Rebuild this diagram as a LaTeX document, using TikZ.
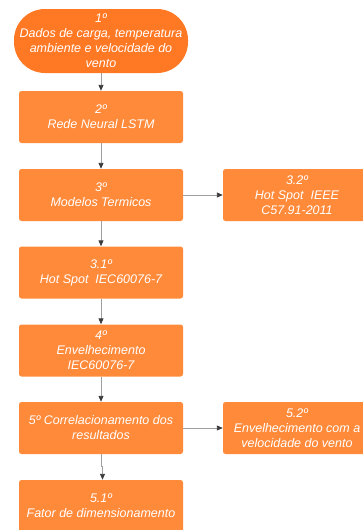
\documentclass[tikz,border=0pt]{standalone}
\usepackage{fontspec}
\setmainfont{Liberation Sans}
\usetikzlibrary{arrows.meta,calc}
\definecolor{termorange}{RGB}{255,120,36}
\definecolor{boxorange}{RGB}{255,138,58}
\definecolor{linegray}{RGB}{160,160,160}
\definecolor{headgray}{RGB}{60,60,60}
\tikzset{
  stepbox/.style={fill=boxorange, draw=none, rounded corners=2.5pt,
    minimum width=164pt, minimum height=52pt, inner sep=0pt,
    text=white, align=center, font=\fontsize{12.5}{15}\selectfont\itshape},
  sidebox/.style={stepbox, minimum width=148pt},
  terminal/.style={stepbox, fill=termorange, rounded corners=31pt,
    minimum width=174pt, minimum height=64pt},
  flow/.style={draw=linegray, line width=0.9pt,
    -{Triangle[length=6pt,width=5pt,color=headgray]}}
}
\begin{document}
\begin{tikzpicture}[x=1pt,y=1pt]
  \useasboundingbox (0,0) rectangle (363,-530);
  \clip (0,0) rectangle (363,-530);
  % main column
  \node[terminal] (s1) at (101,-41)
    {1º\\Dados de carga, temperatura\\ambiente e velocidade do\\vento};
  \node[stepbox] (s2) at (101,-117) {2º\\Rede Neural LSTM};
  \node[stepbox] (s3) at (101,-195) {3º\\Modelos Termicos};
  \node[stepbox] (s31) at (101,-272.5) {3.1º\\Hot Spot~ IEC60076-7};
  \node[stepbox] (s4) at (101,-350.5) {4º\\Envelhecimento\\IEC60076-7};
  \node[stepbox] (s5) at (101,-428) {5º Correlacionamento dos\\resultados};
  \node[stepbox] (s51) at (101,-506) {5.1º\\Fator de dimensionamento};
  % side column
  \node[sidebox] (s32) at (297,-195) {3.2º\\Hot Spot~ IEEE\\C57.91-2011};
  \node[sidebox] (s52) at (297,-428) {5.2º\\Envelhecimento com a\\velocidade do vento};
  % connectors
  \draw[flow] (s1.south) -- (s2.north);
  \draw[flow] (s2.south) -- (s3.north);
  \draw[flow] (s3.south) -- (s31.north);
  \draw[flow] (s31.south) -- (s4.north);
  \draw[flow] (s4.south) -- (s5.north);
  \draw[flow] (s5.south) -- ++(0,-12) -| ([xshift=1.5pt]s51.north);
  \draw[flow] (s3.east) -- (s32.west);
  \draw[flow] (s5.east) -- (s52.west);
\end{tikzpicture}
\end{document}
